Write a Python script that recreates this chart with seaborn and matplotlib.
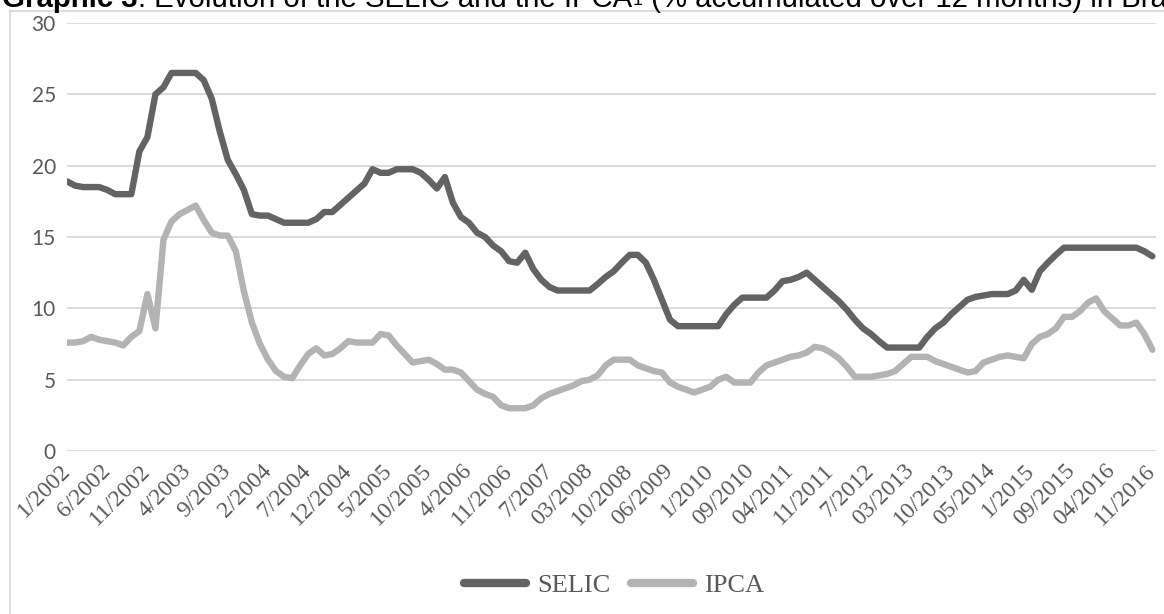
import numpy as np
import pandas as pd
import matplotlib
matplotlib.use("Agg")
import matplotlib.pyplot as plt
from matplotlib.lines import Line2D
import seaborn as sns

# Policy rate (SELIC, % p.a.) per period
selic = [
    18.9, 18.6, 18.5, 18.5, 18.5, 18.3, 18.0, 18.0, 18.0, 21.0,
    22.0, 25.0, 25.5, 26.5, 26.5, 26.5, 26.5, 26.0, 24.7, 22.4,
    20.4, 19.4, 18.3, 16.6, 16.5, 16.5, 16.25, 16.0, 16.0, 16.0,
    16.0, 16.25, 16.75, 16.75, 17.25, 17.75, 18.25, 18.75, 19.75, 19.5,
    19.5, 19.75, 19.75, 19.75, 19.5, 19.0, 18.4, 19.2, 17.4, 16.4,
    16.0, 15.3, 15.0, 14.4, 14.0, 13.3, 13.2, 13.9, 12.75, 12.0,
    11.5, 11.25, 11.25, 11.25, 11.25, 11.25, 11.7, 12.2, 12.6, 13.2,
    13.75, 13.75, 13.2, 12.0, 10.6, 9.2, 8.75, 8.75, 8.75, 8.75,
    8.75, 8.75, 9.6, 10.25, 10.75, 10.75, 10.75, 10.75, 11.25, 11.9,
    12.0, 12.2, 12.5, 12.0, 11.5, 11.0, 10.5, 9.9, 9.2, 8.6,
    8.2, 7.7, 7.25, 7.25, 7.25, 7.25, 7.25, 8.0, 8.6, 9.0,
    9.6, 10.1, 10.6, 10.8, 10.9, 11.0, 11.0, 11.0, 11.25, 12.0,
    11.3, 12.6, 13.2, 13.75, 14.25, 14.25, 14.25, 14.25, 14.25, 14.25,
    14.25, 14.25, 14.25, 14.25, 14.0, 13.65,
]

# Consumer inflation (IPCA, % accumulated over 12 months) per period
ipca = [
    7.6, 7.6, 7.7, 8.0, 7.8, 7.7, 7.6, 7.4, 8.0, 8.4,
    11.0, 8.6, 14.8, 16.1, 16.6, 16.9, 17.2, 16.2, 15.3, 15.1,
    15.1, 14.0, 11.2, 9.0, 7.5, 6.4, 5.6, 5.2, 5.1, 6.0,
    6.8, 7.2, 6.7, 6.8, 7.2, 7.7, 7.6, 7.6, 7.6, 8.2,
    8.1, 7.4, 6.8, 6.2, 6.3, 6.4, 6.1, 5.7, 5.7, 5.5,
    4.9, 4.3, 4.0, 3.8, 3.2, 3.0, 3.0, 3.0, 3.2, 3.7,
    4.0, 4.2, 4.4, 4.6, 4.9, 5.0, 5.3, 6.0, 6.4, 6.4,
    6.4, 6.0, 5.8, 5.6, 5.5, 4.8, 4.5, 4.3, 4.1, 4.3,
    4.5, 5.0, 5.2, 4.8, 4.8, 4.8, 5.5, 6.0, 6.2, 6.4,
    6.6, 6.7, 6.9, 7.3, 7.2, 6.9, 6.5, 5.9, 5.2, 5.2,
    5.2, 5.3, 5.4, 5.6, 6.1, 6.6, 6.6, 6.6, 6.3, 6.1,
    5.9, 5.7, 5.5, 5.6, 6.2, 6.4, 6.6, 6.7, 6.6, 6.5,
    7.5, 8.0, 8.2, 8.6, 9.4, 9.4, 9.8, 10.4, 10.7, 9.8,
    9.3, 8.8, 8.8, 9.0, 8.2, 7.1,
]

# Labelled periods (every fifth observation)
tick_labels = [
    "1/2002", "6/2002", "11/2002", "4/2003", "9/2003", "2/2004", "7/2004",
    "12/2004", "5/2005", "10/2005", "4/2006", "11/2006", "7/2007", "03/2008",
    "10/2008", "06/2009", "1/2010", "09/2010", "04/2011", "11/2011", "7/2012",
    "03/2013", "10/2013", "05/2014", "1/2015", "09/2015", "04/2016", "11/2016",
]
tick_step = 5
y_ticks = [0, 5, 10, 15, 20, 25, 30]

series_names = ["SELIC", "IPCA"]
series_colors = ["#636363", "#b3b3b3"]

title_bold = "Graphic 3"
title_mid = ": Evolution of the SELIC and the IPCA"
title_sup = "1"
title_end = " (% accumulated over 12 months) in Brazil"

sns.set_theme(style="white")
plt.rcParams["font.family"] = ["Liberation Serif", "DejaVu Serif"]

W, H = 1164, 614
fig = plt.figure(figsize=(W / 100, H / 100), dpi=100)
fig.patch.set_facecolor("white")


def px_box(x0, y0, x1, y1):
    return [x0 / W, 1 - y1 / H, (x1 - x0) / W, (y1 - y0) / H]


ax = fig.add_axes(px_box(67, 23, 1156, 451))

n = len(selic)
df = pd.DataFrame({
    "period": np.tile(np.arange(n), 2),
    "rate": selic + ipca,
    "series": np.repeat(series_names, n),
})

sns.lineplot(
    data=df, x="period", y="rate", hue="series", hue_order=series_names,
    palette=dict(zip(series_names, series_colors)), linewidth=4.6, ax=ax,
    solid_joinstyle="round", solid_capstyle="round",
)

ax.set_xlim(0, n - 1 + 0.45)
ax.set_ylim(0, 30)
ax.set_xlabel("")
ax.set_ylabel("")
for s in ax.spines.values():
    s.set_visible(False)

ax.set_yticks(y_ticks)
ax.yaxis.grid(True, color="#d9d9d9", linewidth=1.3)
ax.xaxis.grid(False)
ax.set_axisbelow(True)
ax.tick_params(axis="y", length=0, pad=8, labelsize=15, labelcolor="#595959")
for lab in ax.get_yticklabels():
    lab.set_fontfamily(["Lato", "DejaVu Sans"])

ax.set_xticks(np.arange(0, n, tick_step))
ax.set_xticklabels(tick_labels, rotation=45, ha="right", va="center",
                   rotation_mode="anchor", fontsize=17, color="#595959")
ax.tick_params(axis="x", length=0, pad=12)

# Legend below the axis labels
handles, labels = ax.get_legend_handles_labels()
if ax.get_legend() is not None:
    ax.get_legend().remove()
leg = fig.legend(
    handles, labels, loc="center", bbox_to_anchor=(614 / W, 1 - 585 / H),
    ncol=2, frameon=False, fontsize=19, handlelength=2.35,
    handletextpad=0.4, columnspacing=0.8,
)
for t in leg.get_texts():
    t.set_color("#595959")
for h in leg.legend_handles:
    h.set_linewidth(6)

# Chart border (left and top edges)
fig.add_artist(Line2D([10.5 / W, 10.5 / W], [1 - 10 / H, 0], color="#d9d9d9",
                      linewidth=1.3, transform=fig.transFigure))
fig.add_artist(Line2D([10 / W, 1], [1 - 10.5 / H, 1 - 10.5 / H], color="#d9d9d9",
                      linewidth=1.3, transform=fig.transFigure))

# Caption along the top edge
sans = ["Liberation Sans", "DejaVu Sans"]
base_y = 1 - 7 / H
fs = 21.2
t1 = fig.text(2 / W, base_y, title_bold, fontsize=fs, fontweight="bold",
              family=sans, va="baseline", ha="left", color="black")
fig.canvas.draw()
x_next = t1.get_window_extent().x1
t2 = fig.text(x_next / W, base_y, title_mid, fontsize=fs, family=sans,
              va="baseline", ha="left", color="black")
fig.canvas.draw()
x_next = t2.get_window_extent().x1
t3 = fig.text((x_next + 1) / W, 1 - 5 / H, title_sup, fontsize=13, family=sans,
              va="baseline", ha="left", color="black")
fig.canvas.draw()
x_next = t3.get_window_extent().x1
fig.text(x_next / W, base_y, title_end, fontsize=fs, family=sans,
         va="baseline", ha="left", color="black")

fig.savefig("out.png", dpi=100, facecolor="white")
